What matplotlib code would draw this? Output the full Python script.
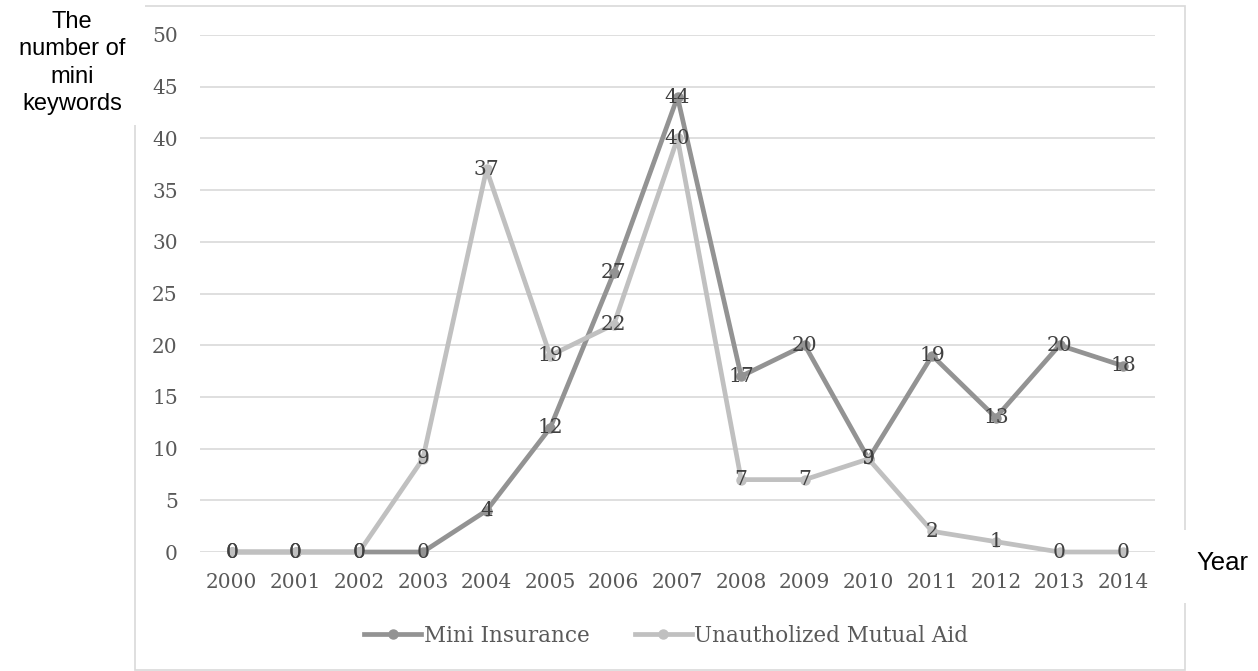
import matplotlib
matplotlib.use("Agg")
import matplotlib.pyplot as plt
from matplotlib.patches import Rectangle

years = ["2000", "2001", "2002", "2003", "2004", "2005", "2006", "2007",
         "2008", "2009", "2010", "2011", "2012", "2013", "2014"]
mini_insurance = [0, 0, 0, 0, 4, 12, 27, 44, 17, 20, 9, 19, 13, 20, 18]
unauth_mutual_aid = [0, 0, 0, 9, 37, 19, 22, 40, 7, 7, 9, 2, 1, 0, 0]
y_ticks = [0, 5, 10, 15, 20, 25, 30, 35, 40, 45, 50]

W, H = 1258, 671
fig = plt.figure(figsize=(W / 100, H / 100), dpi=100)

def fx(px):
    return px / W

def fy(py):
    return 1 - py / H

serif = ["DejaVu Serif"]
FS = 14.5

# chart border
fig.patches.append(Rectangle((fx(135), fy(670)), fx(1185) - fx(135), fy(6) - fy(670),
                             transform=fig.transFigure, fill=False,
                             edgecolor="#d9d9d9", linewidth=1.2, zorder=0))
# white masks behind axis titles
fig.patches.append(Rectangle((0, fy(125)), fx(145), 1 - fy(125),
                             transform=fig.transFigure, facecolor="white",
                             edgecolor="none", zorder=1))
fig.patches.append(Rectangle((fx(1170), fy(603)), fx(1258) - fx(1170), fy(530) - fy(603),
                             transform=fig.transFigure, facecolor="white",
                             edgecolor="none", zorder=1))

ax = fig.add_axes([fx(200), fy(552), fx(1155) - fx(200), fy(35) - fy(552)])
ax.set_facecolor("none")
x = list(range(len(years)))

ax.set_xlim(-0.5, len(years) - 0.5)
ax.set_ylim(0, 50)
ax.set_yticks(y_ticks)
ax.set_xticks(x)
ax.set_xticklabels(years)
ax.grid(axis="y", color="#d9d9d9", linewidth=1.2)
ax.set_axisbelow(True)
for s in ax.spines.values():
    s.set_visible(False)
ax.tick_params(length=0, colors="#595959", labelsize=FS)
ax.tick_params(axis="x", pad=15)
ax.tick_params(axis="y", pad=16)
for lab in ax.get_xticklabels() + ax.get_yticklabels():
    lab.set_family(serif)
    lab.set_color("#595959")

ax.plot(x, mini_insurance, color="#939393", linewidth=3.4, marker="o",
        markersize=6.5, label="Mini Insurance", zorder=3, clip_on=False)
ax.plot(x, unauth_mutual_aid, color="#c0c0c0", linewidth=3.4, marker="o",
        markersize=6.5, label="Unautholized Mutual Aid", zorder=4, clip_on=False)

for xi, v in zip(x, mini_insurance):
    ax.text(xi, v, str(v), ha="center", va="center", fontsize=FS,
            family=serif, color="#404040", zorder=6)
for xi, v in zip(x, unauth_mutual_aid):
    ax.text(xi, v, str(v), ha="center", va="center", fontsize=FS,
            family=serif, color="#404040", zorder=6)

leg = fig.legend(loc="center left", bbox_to_anchor=(fx(345), fy(636)), ncol=2,
                 frameon=False, prop={"family": serif, "size": 15.5},
                 handlelength=2.65, handletextpad=0.1, columnspacing=2.1)
for t in leg.get_texts():
    t.set_color("#595959")

fig.text(fx(72), fy(63), "The\nnumber of\nmini\nkeywords", ha="center", va="center",
         fontsize=17, family=["Liberation Sans"], color="black",
         linespacing=1.33, zorder=5)
fig.text(fx(1222), fy(563), "Year", ha="center", va="center",
         fontsize=18.5, family=["Liberation Sans"], color="black", zorder=5)

fig.savefig("out.png", dpi=100, facecolor="white")
